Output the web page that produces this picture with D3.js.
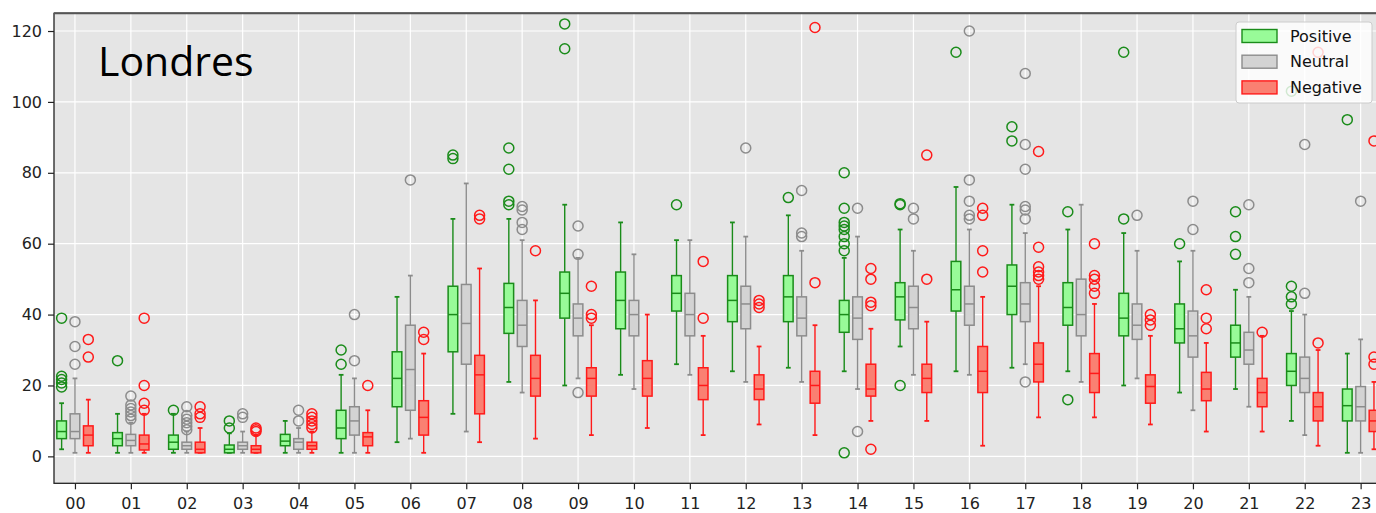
<!DOCTYPE html>
<html>
<head>
<meta charset="utf-8">
<script src="https://cdn.jsdelivr.net/npm/d3@7"></script>
<style>
body { margin: 0; background: #fff; }
svg { display: block; }
</style>
</head>
<body>
<svg id="chart" width="1376" height="513"></svg>
<script>
// hours on the x axis
let hours = ["00","01","02","03","04","05","06","07","08","09","10","11",
             "12","13","14","15","16","17","18","19","20","21","22","23"];
let seriesNames = ["Positive", "Neutral", "Negative"];
let yTicks = [0, 20, 40, 60, 80, 100, 120];

// [whisker low, q1, median, q3, whisker high] per hour
let posStats = [
  [2,5,7,10,15], [1,3,5,6.7,12], [1,2,4,6,12], [1,1,2,3.2,6.5], [1,3,4.3,6.2,10],
  [1,5,8,13,23], [4,14,22,29.5,45], [12,29.5,40,48,67], [21,34.7,42,48.8,67], [20,39,46,52,71],
  [23,36,44,52,66], [26,41,46,51,61], [24,38,44,51,66], [25,38,45,51,68], [24,35,40,44,56],
  [31,38.5,45,49,64], [24,41,47,55,76], [25,40,48,54,71], [24,37,42,49,64], [20,34,39,46,63],
  [18,32,36,43,55], [19,28,32,37,47], [10,20,24,29,41], [1,10,14.3,19,29]
];
let posOutliers = [
  [19.6,20.7,21.7,22.6,39], [27], [13], [8,10], [],
  [26,30], [], [84,85], [71,72,81,87], [115,122],
  [], [71], [], [73], [1,58,60,62,64,65,66,70,80],
  [20,71,71.3], [114], [89,93], [16,69], [67,114],
  [60], [57,62,69], [43,45,48,103], [95]
];

let neuStats = [
  [1,5,7,12,22], [1,3,4.5,6.2,9.5], [1,2,3,4,7], [1,2,3,4,7], [1,2,4,5,8],
  [1,6,10,14,22], [5,13,24.5,37,51], [7,26,37.5,48.5,77], [18,31,37,44,61], [22,34,39,43,56],
  [19,34,40,44,57], [23,34,40,46,61], [21,36,43,48,62], [21,34,39,45,58], [19,33,39,45,62],
  [23,36,42,48,58], [23,37,43,48,64], [26,38,43,49,63], [21,34,40,50,71], [22,33,37,43,58],
  [13,28,34,41,58], [14,26,30,35,45], [6,18,22,28,40], [1,10,14,19.7,33]
];
let neuOutliers = [
  [26,31,38], [10.5,11.5,12.5,13.5,14.5,17], [7.5,8.5,9.5,10.5,11.5,14], [11,12], [10,13],
  [27,40], [78], [], [64,66,69.5,70.5], [18,57,65],
  [], [], [87], [62,63,75], [7,70],
  [67,70], [67,68,72,78,120], [21,67,69.5,70.5,81,88,108], [], [68],
  [64,72], [49,53,71], [46,88], [72]
];

let negStats = [
  [1,3,6,8.6,16], [1,1.8,3.5,6,12], [1,1,2,4,8], [1,1,2,3,6], [1,2,3,4,7],
  [1,3,5.5,6.7,13], [1,6,11,15.7,29], [4,12,23,28.5,53], [5,17,22,28.5,44], [6,17,22,25,37],
  [8,17,22,27,40], [6,16,20,25,34], [9,16,19,23,31], [6,15,20,24,37], [10,17,19,26,36],
  [10,18,22,26,38], [3,18,24,31,45], [11,21,26,32,48], [11,18,23.4,29,43], [9,15,19.7,23,34],
  [7,15.7,19,23.7,32], [7,14,18,22,34], [3,10,14,18,30], [2,7,10,13,21]
];
let negOutliers = [
  [28,33], [13,15,20,39], [11,12,14], [7,7.5,8], [8,9,10,11,12],
  [20], [33,35], [67,68], [58], [39,40,48],
  [], [39,55], [42,43,44], [49,121], [2,42.5,43.5,50,53],
  [50,85], [52,58,68,70], [50,51,52,53.5,59,86], [46,48,50,51,60], [37,38.5,40],
  [36,39,47], [35], [32,114], [26,28,89]
];

let edgeColors = {Positive: "#1a8c1a", Neutral: "#8c8c8c", Negative: "#ff1a1a"};
let fillColors = {Positive: "#98fb98", Neutral: "#d3d3d3", Negative: "#fa8072"};

let series = [
  {name: "Positive", stats: posStats, outliers: posOutliers},
  {name: "Neutral", stats: neuStats, outliers: neuOutliers},
  {name: "Negative", stats: negStats, outliers: negOutliers}
];

let svg = d3.select("#chart");
let pLeft = 54, pTop = 13.3, pBottom = 483.3, pRight = 1381.6;
let tickFont = "DejaVu Sans";

let x = d3.scaleLinear().domain([-0.375, 23.375]).range([pLeft, pRight]);
let y = d3.scaleLinear().domain([-7.6, 125]).range([pBottom, pTop]);
let sub = d3.scaleBand().domain(seriesNames).range([-20, 20]);
let boxW = sub.bandwidth() * 0.72;
let capW = boxW * 0.5;

// background
svg.append("rect")
  .attr("x", pLeft).attr("y", pTop)
  .attr("width", pRight - pLeft).attr("height", pBottom - pTop)
  .attr("fill", "#e5e5e5");

// grid
let grid = svg.append("g");
grid.selectAll(".gy").data(yTicks).enter().append("line")
  .attr("x1", pLeft).attr("x2", pRight)
  .attr("y1", d => y(d)).attr("y2", d => y(d))
  .attr("stroke", "#fff").attr("stroke-width", 1.2);
grid.selectAll(".gx").data(hours).enter().append("line")
  .attr("x1", (d,i) => x(i)).attr("x2", (d,i) => x(i))
  .attr("y1", pTop).attr("y2", pBottom)
  .attr("stroke", "#fff").attr("stroke-width", 1.2);

// boxes
let plot = svg.append("g");
series.forEach(s => {
  let col = edgeColors[s.name];
  let g = plot.append("g");
  let boxes = g.selectAll("g").data(s.stats).enter().append("g")
    .attr("transform", (d,i) => "translate(" + (x(i) + sub(s.name) + sub.bandwidth()/2) + ",0)");

  boxes.append("line")
    .attr("y1", d => y(d[0])).attr("y2", d => y(d[1]))
    .attr("stroke", col).attr("stroke-width", 1.4);
  boxes.append("line")
    .attr("y1", d => y(d[3])).attr("y2", d => y(d[4]))
    .attr("stroke", col).attr("stroke-width", 1.4);
  boxes.append("line")
    .attr("x1", -capW/2).attr("x2", capW/2)
    .attr("y1", d => y(d[0])).attr("y2", d => y(d[0]))
    .attr("stroke", col).attr("stroke-width", 1.8);
  boxes.append("line")
    .attr("x1", -capW/2).attr("x2", capW/2)
    .attr("y1", d => y(d[4])).attr("y2", d => y(d[4]))
    .attr("stroke", col).attr("stroke-width", 1.8);
  boxes.append("rect")
    .attr("x", -boxW/2).attr("width", boxW)
    .attr("y", d => y(d[3])).attr("height", d => y(d[1]) - y(d[3]))
    .attr("fill", fillColors[s.name])
    .attr("stroke", col).attr("stroke-width", 1.5);
  boxes.append("line")
    .attr("x1", -boxW/2).attr("x2", boxW/2)
    .attr("y1", d => y(d[2])).attr("y2", d => y(d[2]))
    .attr("stroke", col).attr("stroke-width", 1.5);

  boxes.each(function(d, i) {
    d3.select(this).selectAll("circle").data(s.outliers[i]).enter().append("circle")
      .attr("cx", 0).attr("cy", v => y(v))
      .attr("r", 5)
      .attr("fill", "none")
      .attr("stroke", col).attr("stroke-width", 1.5);
  });
});

// title
svg.append("text")
  .attr("x", 98).attr("y", 76)
  .attr("font-family", "Open Sans")
  .attr("font-size", 41)
  .attr("fill", "#000")
  .text("Londres");

// legend
let lg = svg.append("g").attr("transform", "translate(1236,22)");
lg.append("rect")
  .attr("width", 136).attr("height", 81).attr("rx", 3)
  .attr("fill", "#fff").attr("fill-opacity", 0.8)
  .attr("stroke", "#ccc").attr("stroke-width", 1);
let items = lg.selectAll(".it").data(seriesNames).enter().append("g")
  .attr("transform", (d,i) => "translate(6," + (7.5 + i * 25.7) + ")");
items.append("rect")
  .attr("width", 35).attr("height", 13)
  .attr("fill", d => fillColors[d])
  .attr("stroke", d => edgeColors[d]).attr("stroke-width", 1.4);
items.append("text")
  .attr("x", 48).attr("y", 12)
  .attr("font-family", tickFont).attr("font-size", 16)
  .attr("fill", "#111")
  .text(d => d);

// axes
let yAxis = svg.append("g")
  .attr("transform", "translate(" + pLeft + ",0)")
  .call(d3.axisLeft(y).tickValues(yTicks).tickSize(6).tickPadding(6));
let xAxis = svg.append("g")
  .attr("transform", "translate(0," + pBottom + ")")
  .call(d3.axisBottom(x).tickValues(d3.range(hours.length)).tickFormat(i => hours[i]).tickSize(6).tickPadding(8));
[yAxis, xAxis].forEach(a => {
  a.select(".domain").remove();
  a.selectAll("text").attr("font-family", tickFont).attr("font-size", 16).attr("fill", "#222");
  a.selectAll("line").attr("stroke", "#222").attr("stroke-width", 1.2);
});

// frame
svg.append("rect")
  .attr("x", pLeft).attr("y", pTop)
  .attr("width", pRight - pLeft).attr("height", pBottom - pTop)
  .attr("fill", "none")
  .attr("stroke", "#222").attr("stroke-width", 1.3);
svg.append("line")
  .attr("x1", pLeft).attr("x2", pRight).attr("y1", pTop).attr("y2", pTop)
  .attr("stroke", "#555").attr("stroke-width", 2);
</script>
</body>
</html>
